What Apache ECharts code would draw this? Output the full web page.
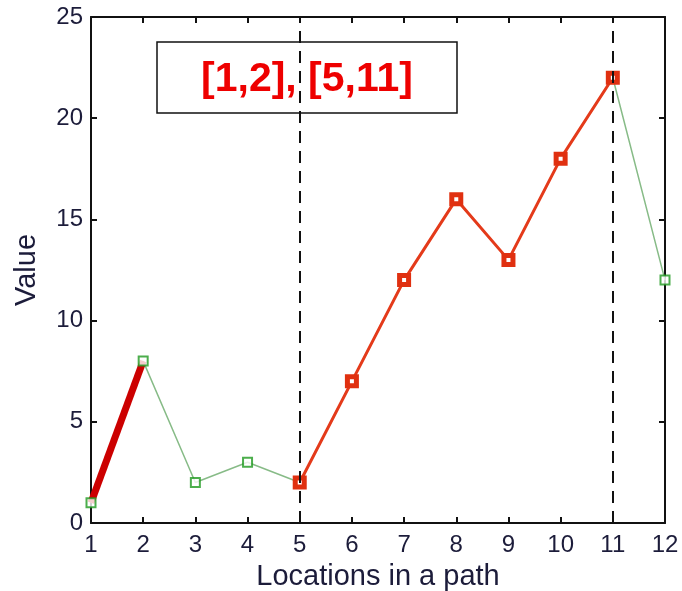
<!DOCTYPE html>
<html><head><meta charset="utf-8">
<script src="https://cdn.jsdelivr.net/npm/echarts@6/dist/echarts.min.js"></script>
<style>html,body{margin:0;padding:0;background:#fff}#c{width:682px;height:591px}</style>
</head><body><div id="c"></div>
<script>
const locations = [1,2,3,4,5,6,7,8,9,10,11,12];
const values = [1,8,2,3,2,7,12,16,13,18,22,12];
const segA = [1,2];      // first highlighted interval
const segB = [5,11];     // second highlighted interval
const dividers = [5,11];
const boxText = '[1,2], [5,11]';
const yTicks = [0,5,10,15,20,25];

const pts = locations.map((x,i)=>[x, values[i]]);
const inRange = (x,r)=> x>=r[0] && x<=r[1];
const segAPts = pts.filter(p=>inRange(p[0],segA));
const segBPts = pts.filter(p=>inRange(p[0],segB));
const greenPts = pts.filter(p=>!inRange(p[0],segB));

const labelColor = '#1c1c3a';
const font = 'Liberation Sans, Arial, sans-serif';
const chart = echarts.init(document.getElementById('c'));
const axisCommon = {
  axisLine:{show:true, onZero:false, lineStyle:{color:'#111', width:2}},
  axisTick:{show:true, inside:true, length:6, lineStyle:{color:'#111', width:2}},
  splitLine:{show:false}
};
chart.setOption({
  animation:false,
  grid:{left:91, right:17, top:17, bottom:68, containLabel:false, outerBoundsMode:'none'},
  xAxis:[
    Object.assign({type:'value', min:1, max:12, interval:1, position:'bottom',
      name:'Locations in a path', nameLocation:'middle', nameGap:39,
      nameTextStyle:{fontFamily:font, fontSize:29, color:labelColor},
      axisLabel:{fontFamily:font, fontSize:24, color:labelColor, margin:10}}, axisCommon),
    Object.assign({type:'value', min:1, max:12, interval:1, position:'top',
      axisLabel:{show:false}}, axisCommon)
  ],
  yAxis:[
    Object.assign({type:'value', min:0, max:25, interval:5, position:'left',
      name:'Value', nameLocation:'middle', nameGap:50,
      nameTextStyle:{fontFamily:font, fontSize:29, color:labelColor},
      axisLabel:{fontFamily:font, fontSize:24, color:labelColor, margin:8,
        formatter:v=> yTicks.includes(v)? String(v):''}}, axisCommon),
    Object.assign({type:'value', min:0, max:25, interval:5, position:'right',
      axisLabel:{show:false}}, axisCommon)
  ],
  series:[
    {type:'line', data:pts, symbol:'none', z:2,
     lineStyle:{color:'#7ab47a', width:1.5, opacity:0.9},
     markLine:{silent:true, symbol:'none', label:{show:false},
       lineStyle:{color:'#111', width:2, type:[12,8]},
       data: dividers.map(d=>({xAxis:d}))}},
    {type:'line', data:segAPts, symbol:'none', z:3,
     lineStyle:{color:'#cc0000', width:7}},
    {type:'line', data:segBPts, symbol:'rect', symbolSize:9, z:4,
     lineStyle:{color:'#e43a1a', width:3},
     itemStyle:{color:'#ffffff', borderColor:'#e03010', borderWidth:5}},
    {type:'scatter', data:greenPts, symbol:'rect', symbolSize:9, z:5,
     itemStyle:{color:'#ffffff', borderColor:'#1f9a1f', borderWidth:2}}
  ],
  graphic:[
    {type:'rect', x:157, y:42, shape:{x:0, y:0, width:300, height:71},
     style:{fill:'rgba(0,0,0,0)', stroke:'#111', lineWidth:1.5}, z:10},
    {type:'text', x:307, y:80, z:11,
     style:{text:boxText, fill:'#ee0000', font:'bold 41px Liberation Sans, Arial, sans-serif',
       align:'center', verticalAlign:'middle'}}
  ]
});
</script></body></html>
